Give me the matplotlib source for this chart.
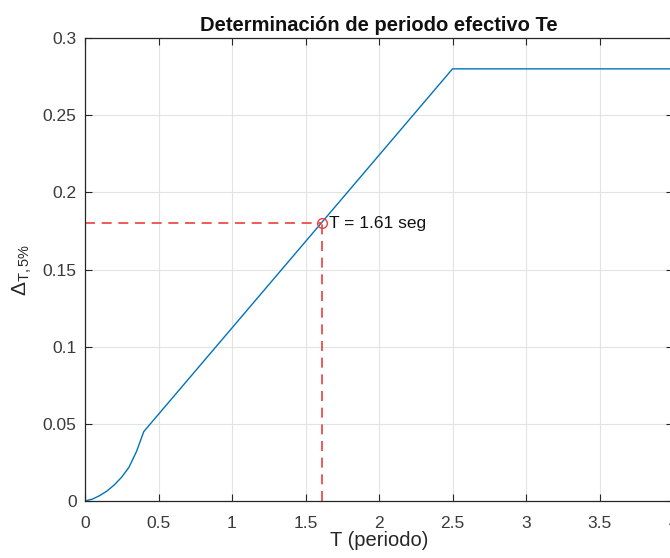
import numpy as np
import matplotlib
matplotlib.use("Agg")
import matplotlib.pyplot as plt

plt.rcParams["font.family"] = ["Liberation Sans", "DejaVu Sans"]
plt.rcParams["mathtext.fontset"] = "custom"
plt.rcParams["mathtext.rm"] = "Liberation Sans"
plt.rcParams["mathtext.it"] = "Liberation Sans:italic"

# spectral displacement curve (normalised)
periodo = [0.0, 0.05, 0.1, 0.15, 0.2, 0.25, 0.3, 0.35, 0.4, 2.5, 4.0]
delta = [0.0, 0.0012, 0.0035, 0.0065, 0.0105, 0.0155, 0.022, 0.032, 0.045, 0.28, 0.28]

# effective period
te = 1.61
delta_te = 0.18

x_ticks = [0, 0.5, 1, 1.5, 2, 2.5, 3, 3.5, 4]
y_ticks = [0, 0.05, 0.1, 0.15, 0.2, 0.25, 0.3]

W, H = 670, 558
fig = plt.figure(figsize=(W / 100, H / 100), dpi=100)
ax = fig.add_axes([85 / W, 1 - 501 / H, 588 / W, 463 / H])

axis_col = "#262626"
red = "#e8403f"
ax.plot(periodo, delta, color="#0072BD", lw=1.0)
ax.plot([0, te], [delta_te, delta_te], "--", color=red, lw=1.2, dashes=(6, 4))
ax.plot([te, te], [0, delta_te], "--", color=red, lw=1.2, dashes=(6, 4))
ax.plot(te, delta_te, "o", mfc="none", mec=red, ms=7, mew=1.0)
ax.text(te + 0.05, delta_te, f"T = {te:.2f} seg", va="center", ha="left",
        fontsize=12.5, color="#111111")

ax.set_xlim(0, 4)
ax.set_ylim(0, 0.3)
ax.set_xticks(x_ticks)
ax.set_xticklabels([f"{v:g}" for v in x_ticks])
ax.set_yticks(y_ticks)
ax.set_yticklabels([f"{v:g}" for v in y_ticks])

ax.grid(True, color="#e3e3e3", lw=0.8)
ax.set_axisbelow(True)
for s in ax.spines.values():
    s.set_color(axis_col)
    s.set_linewidth(0.9)
ax.tick_params(direction="in", top=True, right=True, length=5, width=0.8,
               color=axis_col, labelcolor="#3a3a3a", labelsize=12.5)
ax.tick_params(axis="x", pad=11)
ax.tick_params(axis="y", pad=6)

ax.set_title("Determinación de periodo efectivo Te", fontsize=14.5,
             fontweight="bold", color="#111111", pad=5)
ax.set_xlabel("T (periodo)", fontsize=14.5, color=axis_col, labelpad=0)
ax.set_ylabel(r"$\mathrm{\Delta}_{\mathrm{T,5\%}}$", fontsize=15,
              color=axis_col, labelpad=6)

fig.savefig("out.png", dpi=100)
